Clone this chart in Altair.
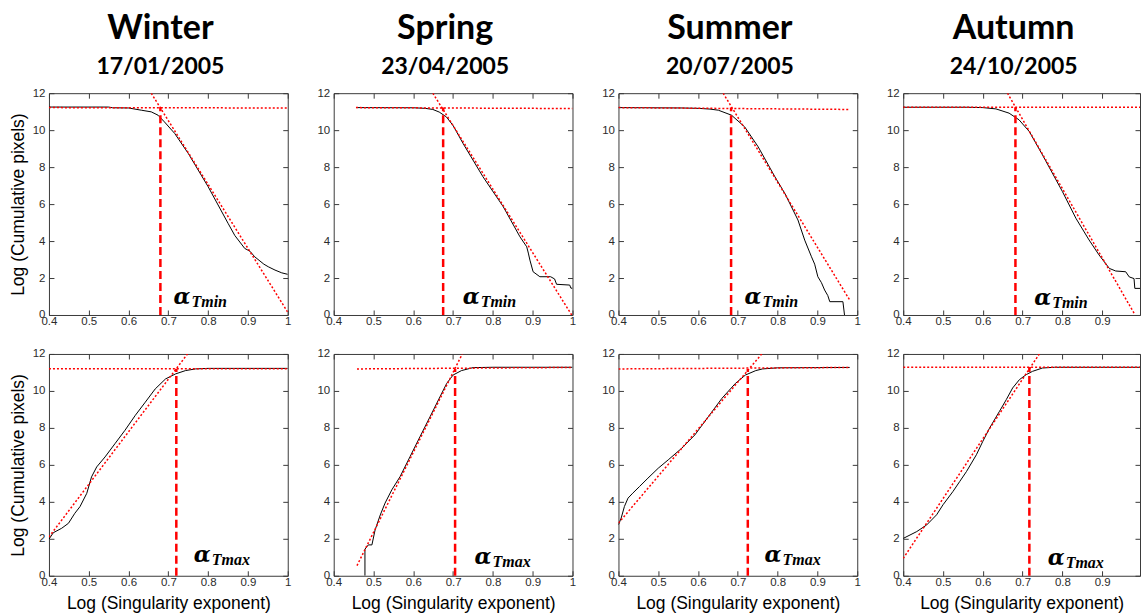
import altair as alt
import pandas as pd

# ---------------------------------------------------------------------------
# Panel headings
# ---------------------------------------------------------------------------
SEASONS = ["Winter", "Spring", "Summer", "Autumn"]
DATES = ["17/01/2005", "23/04/2005", "20/07/2005", "24/10/2005"]

X_TICKS = [0.4, 0.5, 0.6, 0.7, 0.8, 0.9, 1.0]
Y_TICKS = [0, 2, 4, 6, 8, 10, 12]

# ---------------------------------------------------------------------------
# Top row: decreasing cumulative curves and the alpha_Tmin construction
# ---------------------------------------------------------------------------
winter_min_x = [0.40, 0.55, 0.56, 0.60, 0.632, 0.657, 0.674, 0.690, 0.716, 0.750,
                0.800, 0.850, 0.867, 0.892, 0.905, 0.917, 0.940, 0.951, 0.968,
                0.985, 1.000]
winter_min_y = [11.25, 11.25, 11.21, 11.20, 11.08, 10.99, 10.81, 10.45, 9.82, 8.74,
                6.94, 4.96, 4.30, 3.60, 3.45, 3.15, 2.75, 2.61, 2.43, 2.28, 2.20]
winter_min_fit_x = [0.657, 1.0]
winter_min_fit_y = [12.0, 0.15]
winter_min_level_x = [0.40, 1.0]
winter_min_level_y = [11.22, 11.20]
winter_min_alpha = 0.680

spring_min_x = [0.456, 0.60, 0.63, 0.649, 0.665, 0.683, 0.700, 0.725, 0.775, 0.826,
                0.868, 0.885, 0.889, 0.893, 0.901, 0.918, 0.945, 0.955, 0.960,
                0.993, 0.996, 1.000]
spring_min_y = [11.22, 11.21, 11.18, 11.12, 10.98, 10.72, 10.25, 9.28, 7.48, 5.86,
                4.23, 3.69, 3.35, 2.97, 2.34, 2.07, 2.07, 1.95, 1.66, 1.62, 1.45, 1.45]
spring_min_fit_x = [0.649, 0.998]
spring_min_fit_y = [12.0, 0.0]
spring_min_level_x = [0.456, 1.0]
spring_min_level_y = [11.22, 11.17]
spring_min_alpha = 0.675

summer_min_x = [0.40, 0.56, 0.60, 0.63, 0.651, 0.684, 0.717, 0.751, 0.793, 0.818,
                0.851, 0.868, 0.885, 0.893, 0.901, 0.910, 0.918, 0.926, 0.931,
                0.964, 0.968]
summer_min_y = [11.22, 11.20, 11.18, 11.14, 11.08, 10.81, 10.18, 9.10, 7.48, 6.58,
                5.14, 4.05, 3.15, 2.75, 2.07, 1.75, 1.35, 1.05, 0.72, 0.72, 0.0]
summer_min_fit_x = [0.663, 0.981]
summer_min_fit_y = [12.0, 0.81]
summer_min_level_x = [0.40, 0.981]
summer_min_level_y = [11.22, 11.12]
summer_min_alpha = 0.683

autumn_min_x = [0.40, 0.56, 0.60, 0.633, 0.666, 0.691, 0.717, 0.750, 0.800, 0.834,
                0.867, 0.892, 0.918, 0.934, 0.959, 0.968, 0.980, 0.982, 1.000]
autumn_min_y = [11.24, 11.24, 11.22, 11.15, 10.92, 10.56, 9.92, 8.66, 6.68, 5.23,
                4.06, 3.25, 2.52, 2.38, 2.34, 2.06, 1.97, 1.44, 1.44]
autumn_min_fit_x = [0.662, 0.980]
autumn_min_fit_y = [12.0, 0.1]
autumn_min_level_x = [0.40, 1.0]
autumn_min_level_y = [11.24, 11.24]
autumn_min_alpha = 0.682

# ---------------------------------------------------------------------------
# Bottom row: increasing cumulative curves and the alpha_Tmax construction
# ---------------------------------------------------------------------------
winter_max_x = [0.40, 0.411, 0.432, 0.449, 0.465, 0.478, 0.495, 0.507, 0.520, 0.541,
                0.566, 0.591, 0.617, 0.642, 0.667, 0.693, 0.718, 0.743, 0.768,
                0.800, 1.000]
winter_max_y = [1.98, 2.33, 2.57, 2.84, 3.38, 3.74, 4.46, 5.35, 5.89, 6.43, 7.15,
                7.87, 8.68, 9.39, 10.11, 10.65, 10.92, 11.10, 11.19, 11.22, 11.22]
winter_max_fit_x = [0.40, 0.748]
winter_max_fit_y = [2.10, 12.0]
winter_max_level_x = [0.40, 1.0]
winter_max_level_y = [11.20, 11.20]
winter_max_alpha = 0.720

spring_max_x = [0.4785, 0.4785, 0.487, 0.496, 0.504, 0.517, 0.529, 0.546, 0.567,
                0.592, 0.617, 0.642, 0.667, 0.684, 0.700, 0.721, 0.750, 0.800, 1.000]
spring_max_y = [0.0, 1.44, 1.67, 1.67, 2.48, 3.29, 3.93, 4.65, 5.37, 6.45, 7.53,
                8.60, 9.68, 10.41, 10.86, 11.10, 11.26, 11.28, 11.28]
spring_max_fit_x = [0.4585, 0.723]
spring_max_fit_y = [0.55, 12.0]
spring_max_level_x = [0.4585, 1.0]
spring_max_level_y = [11.19, 11.27]
spring_max_alpha = 0.705

summer_max_x = [0.40, 0.4068, 0.415, 0.424, 0.436, 0.453, 0.474, 0.500, 0.525,
                0.559, 0.592, 0.626, 0.660, 0.694, 0.719, 0.745, 0.762, 0.800, 0.981]
summer_max_y = [2.76, 3.12, 3.75, 4.20, 4.47, 4.83, 5.28, 5.82, 6.27, 6.90, 7.62,
                8.61, 9.60, 10.41, 10.86, 11.10, 11.19, 11.25, 11.27]
summer_max_fit_x = [0.40, 0.760]
summer_max_fit_y = [2.85, 12.0]
summer_max_level_x = [0.40, 0.981]
summer_max_level_y = [11.19, 11.27]
summer_max_alpha = 0.725

autumn_max_x = [0.40, 0.434, 0.459, 0.484, 0.500, 0.525, 0.542, 0.559, 0.584, 0.600,
                0.617, 0.642, 0.659, 0.675, 0.692, 0.709, 0.725, 0.750, 0.780, 1.000]
autumn_max_y = [2.02, 2.39, 2.75, 3.30, 3.84, 4.56, 5.10, 5.64, 6.55, 7.27, 7.99,
                8.90, 9.53, 10.16, 10.61, 10.88, 11.06, 11.24, 11.28, 11.28]
autumn_max_fit_x = [0.40, 0.742]
autumn_max_fit_y = [0.94, 12.0]
autumn_max_level_x = [0.40, 1.0]
autumn_max_level_y = [11.28, 11.28]
autumn_max_alpha = 0.717

# Anchor (left, baseline) of the alpha labels, in data units
label_min_x = [0.713, 0.724, 0.717, 0.729]
label_min_y = [0.60, 0.60, 0.60, 0.55]
label_max_x = [0.764, 0.754, 0.767, 0.763]
label_max_y = [0.74, 0.62, 0.74, 0.60]

TOP = [
    (winter_min_x, winter_min_y, winter_min_fit_x, winter_min_fit_y,
     winter_min_level_x, winter_min_level_y, winter_min_alpha),
    (spring_min_x, spring_min_y, spring_min_fit_x, spring_min_fit_y,
     spring_min_level_x, spring_min_level_y, spring_min_alpha),
    (summer_min_x, summer_min_y, summer_min_fit_x, summer_min_fit_y,
     summer_min_level_x, summer_min_level_y, summer_min_alpha),
    (autumn_min_x, autumn_min_y, autumn_min_fit_x, autumn_min_fit_y,
     autumn_min_level_x, autumn_min_level_y, autumn_min_alpha),
]
BOTTOM = [
    (winter_max_x, winter_max_y, winter_max_fit_x, winter_max_fit_y,
     winter_max_level_x, winter_max_level_y, winter_max_alpha),
    (spring_max_x, spring_max_y, spring_max_fit_x, spring_max_fit_y,
     spring_max_level_x, spring_max_level_y, spring_max_alpha),
    (summer_max_x, summer_max_y, summer_max_fit_x, summer_max_fit_y,
     summer_max_level_x, summer_max_level_y, summer_max_alpha),
    (autumn_max_x, autumn_max_y, autumn_max_fit_x, autumn_max_fit_y,
     autumn_max_level_x, autumn_max_level_y, autumn_max_alpha),
]

RED = "#ff0000"
FRAME = "#3a3a3a"
TICK_IN = alt.ExprRef(expr="-5")   # MATLAB-style ticks pointing into the box
PANEL_H = 222


def panel(col, row, data, lab_x, lab_y, subscript):
    cx, cy, fx, fy, lx, ly, alpha = data
    last = col == 3
    x_max = 0.995 if last else 1.0
    width = 237 if last else 239
    xticks = X_TICKS[:-1] if last else X_TICKS

    xs = alt.Scale(domain=[0.4, x_max], nice=False, zero=False)
    ys = alt.Scale(domain=[0, 12], nice=False, zero=False)

    x_axis_kw = dict(orient="bottom", values=xticks, format="~g", labelFlush=False,
                     labelOverlap=False, domain=False, grid=False, tickSize=TICK_IN,
                     labelPadding=6, titlePadding=6)
    x_axis_kw["title"] = "Log (Singularity exponent)" if row == 1 else None
    y_axis_kw = dict(orient="left", values=Y_TICKS, labelOverlap=False, domain=False,
                     grid=False, tickSize=TICK_IN, labelPadding=9, titlePadding=5)
    y_axis_kw["title"] = "Log (Cumulative pixels)" if col == 0 else None

    curve_df = pd.DataFrame({"x": cx, "y": cy, "i": list(range(len(cx)))})
    curve = alt.Chart(curve_df).mark_line(color="black", strokeWidth=1, clip=True).encode(
        x=alt.X("x:Q", scale=xs, axis=alt.Axis(**x_axis_kw)),
        y=alt.Y("y:Q", scale=ys, axis=alt.Axis(**y_axis_kw)),
        order="i:Q",
    )

    level_df = pd.DataFrame({"x": lx, "y": ly})
    level = alt.Chart(level_df).mark_line(
        color=RED, strokeWidth=1.5, strokeDash=[2, 2], clip=True
    ).encode(
        x=alt.X("x:Q", scale=xs, axis=alt.Axis(
            orient="top", values=xticks, labels=False, domain=False, grid=False,
            tickSize=TICK_IN, title=None)),
        y=alt.Y("y:Q", scale=ys, axis=alt.Axis(
            orient="right", values=Y_TICKS, labels=False, domain=False, grid=False,
            tickSize=TICK_IN, title=None)),
    )

    fit_df = pd.DataFrame({"x": fx, "y": fy})
    fit = alt.Chart(fit_df).mark_line(
        color=RED, strokeWidth=1.5, strokeDash=[2, 2], clip=True
    ).encode(
        x=alt.X("x:Q", scale=xs, axis=None),
        y=alt.Y("y:Q", scale=ys, axis=None),
    )

    vline_df = pd.DataFrame({"a": [alpha], "y0": [0.0], "y1": [ly[0]]})
    vline = alt.Chart(vline_df).mark_rule(
        color=RED, strokeWidth=2.5, strokeDash=[8, 4]
    ).encode(
        x=alt.X("a:Q", scale=xs, axis=None),
        y=alt.Y("y0:Q", scale=ys, axis=None),
        y2="y1:Q",
    )

    lab_df = pd.DataFrame({"x": [lab_x], "y": [lab_y], "g": ["α"], "s": [subscript]})
    greek = alt.Chart(lab_df).mark_text(
        align="left", baseline="alphabetic", font="DejaVu Serif", fontSize=22,
        fontStyle="italic", fontWeight="bold", color="black"
    ).encode(
        x=alt.X("x:Q", scale=xs, axis=None),
        y=alt.Y("y:Q", scale=ys, axis=None),
        text="g:N",
    )
    sub = alt.Chart(lab_df).mark_text(
        align="left", baseline="alphabetic", font="Liberation Serif", fontSize=16,
        fontStyle="italic", fontWeight="bold", color="black", dx=18, dy=3
    ).encode(
        x=alt.X("x:Q", scale=xs, axis=None),
        y=alt.Y("y:Q", scale=ys, axis=None),
        text="s:N",
    )

    layered = alt.layer(curve, level, fit, vline, greek, sub).resolve_axis(
        x="independent", y="independent"
    )
    props = dict(width=width, height=PANEL_H)
    if row == 0:
        props["title"] = alt.TitleParams(
            text=SEASONS[col], subtitle=DATES[col], anchor="middle", dx=-8,
            font="Lato", fontSize=34, fontWeight="bold", color="black",
            subtitleFont="Lato", subtitleFontSize=23, subtitleFontWeight="bold",
            subtitleColor="black", subtitlePadding=10, offset=8,
        )
    return layered.properties(**props)


panels = []
for c in range(4):
    panels.append(panel(c, 0, TOP[c], label_min_x[c], label_min_y[c], "Tmin"))
for c in range(4):
    panels.append(panel(c, 1, BOTTOM[c], label_max_x[c], label_max_y[c], "Tmax"))

chart = alt.concat(
    *panels, columns=4, spacing={"row": 39, "column": 46}, bounds="flush"
).configure_view(
    stroke=FRAME, strokeWidth=1
).configure_axis(
    labelFont="Liberation Sans", labelFontSize=11.5, labelColor="#2b2b2b",
    tickColor=FRAME, tickWidth=1,
    titleFont="Liberation Sans", titleFontSize=17.5, titleFontWeight="normal",
    titleColor="black",
).properties(
    padding={"left": 8, "top": 11, "right": 0, "bottom": 0},
    background="white",
)

chart.save("out.html", embed_options={"renderer": "svg", "actions": False})
